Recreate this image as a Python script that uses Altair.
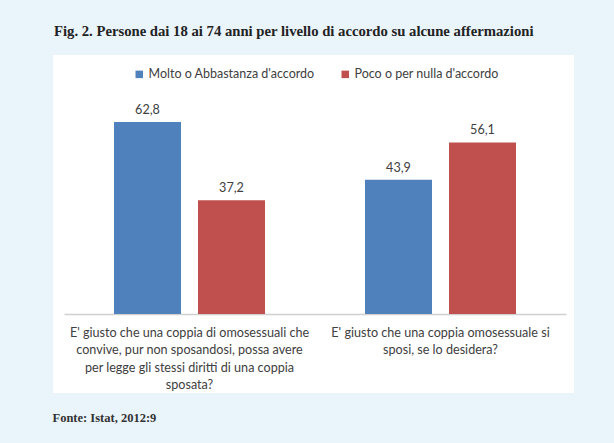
import altair as alt
import pandas as pd

categories = [
    "E' giusto che una coppia di omosessuali che|convive,  pur non sposandosi, possa avere|per legge gli stessi diritti di una coppia|sposata?",
    "E' giusto che una coppia omosessuale si|sposi, se lo desidera?",
]
series = ["Molto o Abbastanza d'accordo", "Poco o per nulla d'accordo"]
molto = [62.8, 43.9]
poco = [37.2, 56.1]
colors = ["#4F81BD", "#C0504D"]

rows = []
for i, c in enumerate(categories):
    rows.append({"cat": c, "series": series[0], "value": molto[i]})
    rows.append({"cat": c, "series": series[1], "value": poco[i]})
df = pd.DataFrame(rows)

base = alt.Chart(df).transform_calculate(
    label="replace(format(datum.value, '.1f'), '.', ',')"
).encode(
    x=alt.X(
        "cat:N",
        sort=categories,
        scale=alt.Scale(range=[11, 513], paddingInner=0, paddingOuter=0),
        axis=alt.Axis(
            labelExpr="split(datum.label, '|')",
            labelAngle=0,
            labelFont="Lato",
            labelFontSize=12.6,
            labelColor="#404040",
            labelLineHeight=17.5,
            labelPadding=12,
            labelLimit=0,
            labelBaseline="top",
            ticks=False,
            domainColor="#D0D0D0",
            domainWidth=1.5,
            offset=-79,
            title="Fonte: Istat, 2012:9",
            titleFont="Liberation Serif",
            titleFontWeight="bold",
            titleFontSize=12.5,
            titleColor="#333333",
            titleX=-1,
            titleY=103,
            titleAlign="left",
            titleAnchor="start",
            titleBaseline="middle",
        ),
    ),
    xOffset=alt.XOffset(
        "series:N", sort=series,
        scale=alt.Scale(paddingInner=0.2024, paddingOuter=0.595),
    ),
    y=alt.Y("value:Q", scale=alt.Scale(domain=[0, 70], range=[259, 45]), axis=None),
)

bars = base.mark_bar().encode(
    color=alt.Color(
        "series:N",
        sort=series,
        scale=alt.Scale(domain=series, range=colors),
        legend=alt.Legend(
            title=None,
            orient="none",
            legendX=80,
            legendY=13,
            direction="horizontal",
            symbolType="square",
            symbolSize=56,
            symbolStrokeWidth=0,
            labelFont="Lato",
            labelFontSize=12.5,
            labelColor="#404040",
            labelOffset=3,
            labelLimit=400,
            columnPadding=24,
        ),
    )
)

text = base.mark_text(
    dy=-5, font="Lato", fontSize=12.6, color="#404040", baseline="bottom"
).encode(text="label:N")

chart = (
    alt.layer(bars, text)
    .properties(
        width=521,
        height=338,
        autosize=alt.AutoSizeParams(type="none"),
        padding={"left": 53, "top": 55, "right": 40, "bottom": 50},
        background="#EAF4FB",
        title=alt.TitleParams(
            "Fig. 2. Persone dai 18 ai 74 anni per livello di accordo su alcune affermazioni",
            anchor="start",
            font="Liberation Serif",
            fontSize=14.7,
            fontWeight="bold",
            color="#222222",
            offset=16,
            dx=2,
        ),
    )
    .configure_view(fill="white", stroke=None)
)

chart.save("out.html", embed_options={"renderer": "svg", "actions": False})
